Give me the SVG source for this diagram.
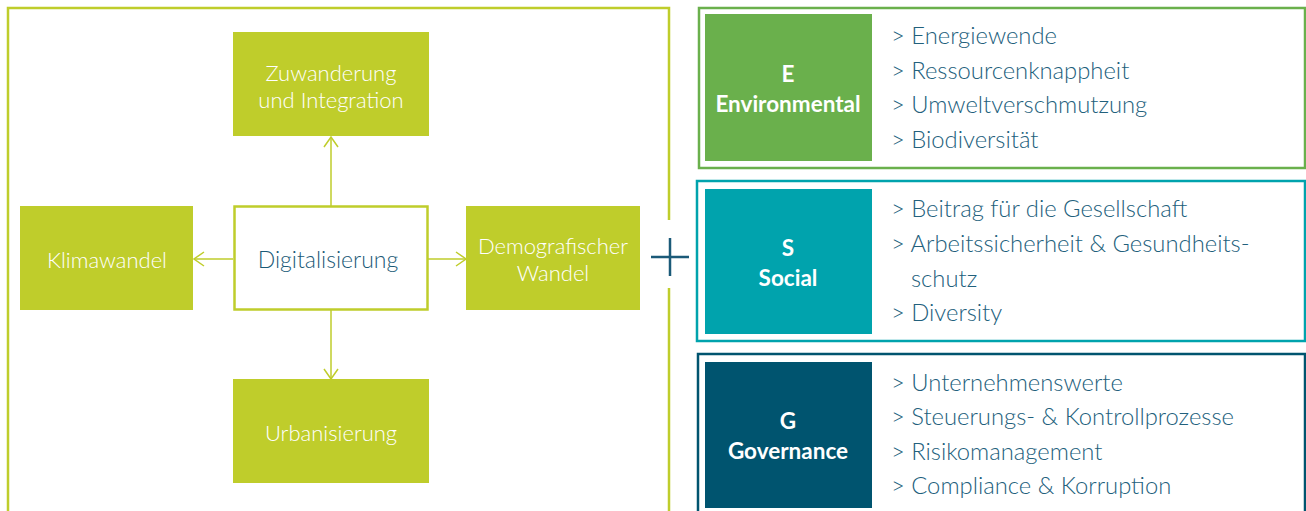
<svg xmlns="http://www.w3.org/2000/svg" width="1306" height="511" viewBox="0 0 1306 511">
<defs>
<marker id="arr" viewBox="0 0 12 16" refX="11" refY="8" markerWidth="12" markerHeight="16" markerUnits="userSpaceOnUse" orient="auto">
<path d="M1,1 L11,8 L1,15" fill="none" stroke="#bfcd2b" stroke-width="1.5"/>
</marker>
<style>
.lime{fill:#bfcd2b}
.wt{fill:#ffffff;font-family:Lato,"Open Sans",sans-serif;font-size:22px;font-weight:300;text-anchor:middle}
.bt{fill:#ffffff;font-family:Lato,"Open Sans",sans-serif;font-size:22.5px;font-weight:bold;text-anchor:middle}
.it{fill:#22607c;font-family:Lato,"Open Sans",sans-serif;font-size:23.8px;font-weight:300}
.con{stroke:#bfcd2b;stroke-width:1.5;fill:none;marker-end:url(#arr)}
</style>
</defs>
<rect width="1306" height="511" fill="#ffffff"/>
<g id="frame" fill="none" stroke="#bfcd2b" stroke-width="2.5">
<path d="M8,511 V8 H669 V220"/>
<path d="M669,288 V511"/>
</g>
<g id="plus" stroke="#1b5a78" stroke-width="2.5">
<line x1="651" y1="257" x2="689" y2="257"/>
<line x1="670" y1="238" x2="670" y2="276"/>
</g>
<g id="connectors">
<line class="con" x1="331" y1="206" x2="331" y2="137"/>
<line class="con" x1="233" y1="259" x2="194" y2="259"/>
<line class="con" x1="428" y1="259" x2="466" y2="259"/>
<line class="con" x1="331" y1="310" x2="331" y2="379"/>
</g>
<g id="zuwanderung">
<rect class="lime" x="233" y="32" width="196" height="104"/>
<text class="wt" x="331" y="81">Zuwanderung</text>
<text class="wt" x="331" y="108">und Integration</text>
</g>
<g id="digitalisierung">
<rect x="234.5" y="206.5" width="193" height="103" fill="#ffffff" stroke="#bfcd2b" stroke-width="2.5"/>
<text x="328" y="268" fill="#1a5a77" font-family="Lato,'Open Sans',sans-serif" font-size="23" font-weight="300" text-anchor="middle">Digitalisierung</text>
</g>
<g id="klimawandel">
<rect class="lime" x="20" y="206" width="173" height="104"/>
<text class="wt" x="107" y="268">Klimawandel</text>
</g>
<g id="demografie">
<rect class="lime" x="466" y="206" width="174" height="104"/>
<text class="wt" x="553" y="254">Demografischer</text>
<text class="wt" x="553" y="281">Wandel</text>
</g>
<g id="urbanisierung">
<rect class="lime" x="233" y="379" width="196" height="104"/>
<text class="wt" x="331" y="441">Urbanisierung</text>
</g>
<g id="environmental">
<rect x="699" y="8" width="606" height="160" fill="none" stroke="#6ab04c" stroke-width="2.5"/>
<rect x="705" y="14" width="167" height="147" fill="#6ab04c"/>
<text class="bt" x="788" y="82">E</text>
<text class="bt" x="788" y="112">Environmental</text>
<text class="it" x="891" y="44">&gt; Energiewende</text>
<text class="it" x="891" y="79">&gt; Ressourcenknappheit</text>
<text class="it" x="891" y="113">&gt; Umweltverschmutzung</text>
<text class="it" x="891" y="148">&gt; Biodiversität</text>
</g>
<g id="social">
<rect x="697" y="181" width="608" height="160" fill="none" stroke="#00a3ad" stroke-width="2.5"/>
<rect x="705" y="189" width="167" height="145" fill="#00a3ad"/>
<text class="bt" x="788" y="256">S</text>
<text class="bt" x="788" y="286">Social</text>
<text class="it" x="891" y="217">&gt; Beitrag für die Gesellschaft</text>
<text class="it" x="891" y="252">&gt; Arbeitssicherheit &amp; Gesundheits-</text>
<text class="it" x="911" y="287">schutz</text>
<text class="it" x="891" y="321">&gt; Diversity</text>
</g>
<g id="governance">
<rect x="698" y="354" width="607" height="170" fill="none" stroke="#00546f" stroke-width="2.5"/>
<rect x="705" y="362" width="167" height="146" fill="#00546f"/>
<text class="bt" x="788" y="429">G</text>
<text class="bt" x="788" y="459">Governance</text>
<text class="it" x="891" y="391">&gt; Unternehmenswerte</text>
<text class="it" x="891" y="425">&gt; Steuerungs- &amp; Kontrollprozesse</text>
<text class="it" x="891" y="460">&gt; Risikomanagement</text>
<text class="it" x="891" y="494">&gt; Compliance &amp; Korruption</text>
</g>
</svg>
